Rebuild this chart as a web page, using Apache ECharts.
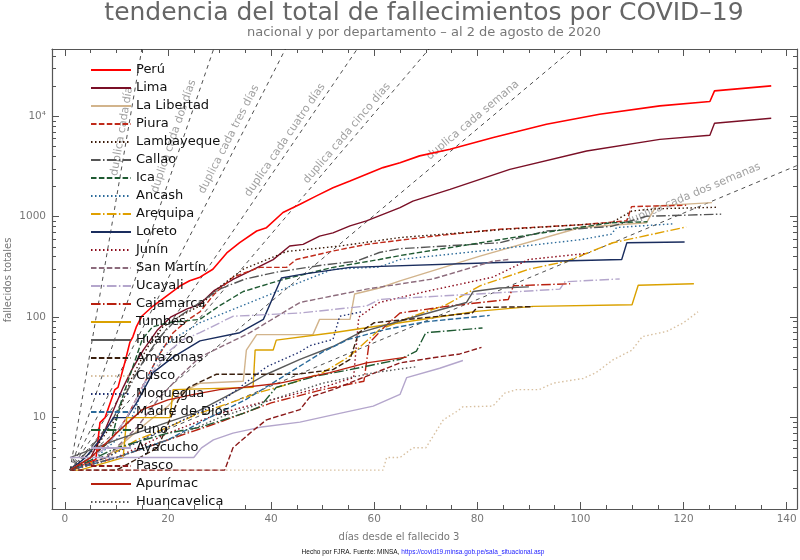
<!DOCTYPE html>
<html>
<head>
<meta charset="utf-8">
<script src="https://cdn.jsdelivr.net/npm/echarts@6/dist/echarts.min.js"></script>
<style>
  html, body { margin: 0; padding: 0; background: #fff; }
  #main { width: 800px; height: 560px; }
</style>
</head>
<body>
<div id="main"></div>
<script>
// deaths per department, [days since death 3, total deaths]
var peru = [[1,3],[6,3.8],[6.8,8.9],[7.8,10],[9.7,19],[10.3,20],[11.6,35],[12.6,56],[13.2,64],[13.9,81],[14.9,102],[17.1,129],[19.7,162],[22.3,204],[24.2,230],[26.2,250],[28.7,300],[31.4,436],[33.9,552],[37.2,720],[39.1,778],[42.3,1100],[45.6,1330],[48.8,1610],[52,1940],[55.3,2260],[58.5,2640],[61.7,3080],[65,3450],[68.8,4030],[74.7,4690],[83.1,6130],[93.4,8320],[103.7,10470],[115.4,12670],[125.1,14010],[126,17900],[137,20050]];
var lima = [[1,3],[5,4],[8,8],[11.3,20],[13,30],[15.2,47],[18,75],[20.5,100],[23.6,120],[26.2,135],[29,185],[32.6,237],[36.5,297],[40.4,374],[43.6,510],[46.2,530],[49.4,640],[52,690],[55.3,810],[58.5,910],[65,1230],[67.5,1430],[74.7,1870],[86.3,2960],[101.2,4510],[115.4,5890],[125.1,6470],[126,8510],[137,9550]];
var laLibertad = [[1,3],[8,4],[12,6],[16,9],[20,13],[22,17],[26.2,22],[34.6,23],[35.2,47],[37.2,67],[48.1,67],[49.4,95],[55.3,95],[56.2,170],[61,195],[65,230],[80.5,405],[100,780],[112.8,870],[114.7,1280],[125.5,1380]];
var piura = [[1,3],[5,4],[9,6],[12,10],[15,20],[18,40],[21,70],[24,95],[26.2,113],[29,170],[32.6,250],[37.8,313],[43,313],[44.9,375],[52,455],[58.5,530],[71.4,640],[84.3,750],[100,830],[109,910],[109.9,1260],[120.5,1300]];
var lambayeque = [[1,3],[6,5],[10,10],[13,25],[16,50],[19,80],[22,100],[26.2,130],[30,200],[34.6,300],[43,450],[53.3,510],[65,620],[84.3,740],[106,870],[110,1140],[115,1200],[126.4,1240]];
var callao = [[1,3],[5,5],[9,9],[12,18],[15,35],[18,60],[22,100],[26.2,140],[30,190],[35,240],[41,280],[50,330],[56.5,360],[61,440],[65,480],[84.3,550],[93.4,720],[106,800],[112.8,1010],[127.3,1060]];
var ica = [[1,3],[5,4],[9,6],[11,15],[13,30],[15,60],[17,80],[20,88],[26.2,95],[30,130],[34.6,180],[42.3,237],[52,313],[61,375],[65,410],[84.3,590],[93.4,700],[106,870],[113,890]];
var ancash = [[1,3],[6,4],[10,6],[13,10],[16,25],[19,50],[22,65],[26.2,88],[35.9,140],[42.3,190],[52,300],[61,315],[65,375],[80.5,455],[100,590],[106,670],[107,780],[118,850]];
var arequipa = [[1,3],[8,4],[14,6],[20,8],[26,11],[32,14],[38,18],[44,22],[50,28],[55,40],[61,75],[67,100],[74,133],[80.5,205],[90,300],[97.3,360],[106.3,550],[120.5,790]];
var loreto = [[1,3],[4,4],[6.8,6],[9.4,10],[12,10],[13.9,14],[17.1,28],[21,40],[26.2,58],[33.9,70],[38.5,95],[42,245],[45.6,265],[55.3,313],[84.3,350],[108,375],[109,550],[120.2,560]];
var junin = [[1,3],[10,4],[20,7],[30,11],[40,15],[50,20],[56,25],[57,100],[61,140],[70,180],[83,250],[90,375],[101,430]];
var sanMartin = [[1,3],[8,4],[14,8],[18,15],[22,25],[26.2,40],[35.9,70],[45.6,140],[58.5,190],[71.4,240],[83,360],[86,375]];
var ucayali = [[1,3],[8,5],[12,10],[16,25],[20,45],[23,60],[26.2,70],[32.6,102],[45.6,110],[58.5,129],[61,150],[80,170],[96,190],[97,225],[107.6,240]];
var cajamarca = [[1,3],[10,4],[20,6],[30,9],[40,14],[50,19],[58,23],[59,55],[62,80],[65,110],[75,130],[86,150],[87,205],[98,215]];
var tumbes = [[1,3],[2.9,3],[11.3,4],[12,10],[20.4,10],[21,19],[36.5,20],[36.9,47],[40.4,47],[41,59],[52,70],[65,88],[79.8,114],[90.8,128],[110,133],[111.2,208],[122,215]];
var huanuco = [[1,4],[10,6],[20,9],[25,11],[30,15],[34.6,20],[39.1,27],[45.6,38],[52,51],[57.2,70],[68.2,102],[77.9,140],[79.2,180],[84.3,195],[90,200]];
var amazonas = [[1,3],[10,3],[18,5],[22,15],[24,20],[29.4,27],[45,27],[52,30],[55.3,38],[57,70],[60,88],[79,110],[80,125],[90.8,127]];
var cusco = [[1,3],[61.7,3],[62.4,4],[65,4],[67.5,5],[70,5],[73.4,9.5],[76,11.5],[77.2,12.8],[83,13],[85.3,17.5],[87.6,19],[92,19],[94.7,22],[100.5,24.5],[103,28],[106.3,37.5],[110,47],[112,64],[116.7,72],[120,88],[122.8,113]];
var moquegua = [[1,3],[8,4],[15,6],[22,9],[30,14],[39.1,32],[45.6,45],[47.5,52],[52,60],[53.3,102],[57.9,114]];
var madreDeDios = [[1,3],[10,4],[20,6],[28,10],[35,15],[42,25],[50,45],[55,60],[62,75],[70,90],[82.4,104]];
var puno = [[1,3],[10,5],[20,7],[26.2,8],[34.6,11],[37.8,12.8],[41,20],[48.8,26],[55.3,30],[65,38],[68.2,46],[70,70],[81,78]];
var ayacucho = [[1,4],[25,4],[26.5,5],[28.8,6],[32.6,7],[37.8,8],[45.6,9],[53.3,11],[59.8,13],[65,17],[66.3,25],[72.7,31],[77.2,37]];
var pasco = [[1,3],[31,3],[32.6,5],[35.9,7],[39.1,9.5],[45.6,12],[47.5,16],[52,19],[57.8,25],[65,35],[70.8,39],[76.6,43],[80.8,50]];
var apurimac = [[1,3],[5,4],[10,7],[15,12],[20,15],[25,17],[30,19],[34.6,20],[41.7,22],[51.4,28],[58.5,35],[66.3,40]];
var huancavelica = [[1,3],[10,4],[20,6],[30,10],[40,15],[50,22],[60,28],[68,32]];

var names = ['Perú','Lima','La Libertad','Piura','Lambayeque','Callao','Ica','Ancash','Arequipa','Loreto','Junín','San Martín','Ucayali','Cajamarca','Tumbes','Huánuco','Amazonas','Cusco','Moquegua','Madre de Dios','Puno','Ayacucho','Pasco','Apurímac','Huancavelica'];
var values = [peru, lima, laLibertad, piura, lambayeque, callao, ica, ancash, arequipa, loreto, junin, sanMartin, ucayali, cajamarca, tumbes, huanuco, amazonas, cusco, moquegua, madreDeDios, puno, ayacucho, pasco, apurimac, huancavelica];

// doubling guide lines, start at 3 deaths on day 1
var doublingDays = [1, 2, 3, 4, 5, 7, 14];
var doublingLabels = ['duplica cada día','duplica cada dos días','duplica cada tres días','duplica cada cuatro días','duplica cada cinco días','duplica cada semana','duplica cada dos semanas'];
var doublingLabelAt = [[11.05,7086],[21.1,6320],[31.8,5900],[42.7,5770],[54.7,6770],[79.1,9120],[121.8,1670]];

var xTicks = [0, 20, 40, 60, 80, 100, 120, 140];
var yTicks = [10, 100, 1000, 10000];

var X_MIN = -2.5, X_MAX = 142, Y_MIN = 1.23, Y_MAX = 46700;

var DASH = [5.5, 2.4], DOT = [1.5, 2.5], DASHDOT = [9.6, 2.4, 1.5, 2.4];
var looks = [
  ['#ff0000','solid'],['#7a0f26','solid'],['#d2b48c','solid'],['#c02a1a',DASH],['#3b1a08',DOT],
  ['#555555',DASHDOT],['#1f5a32',DASH],['#2b6a9a',DOT],['#e0a000',DASHDOT],['#1a2d5e','solid'],
  ['#8b0a1a',DOT],['#8c6b7c',DASH],['#b4a6cc',DASHDOT],['#b8200f',DASHDOT],['#daa100','solid'],
  ['#5a5a5a','solid'],['#3a1f0d',DASH],['#d8c0a0',DOT],['#1f2f70',DOT],['#2b6a9a',DASH],
  ['#1f5a32',DASHDOT],['#b4a6cc','solid'],['#8b1a1a',DASH],['#b8200f','solid'],['#555555',DOT]
];

var gridW = 745, gridH = 460;
var pxPerDay = gridW / (X_MAX - X_MIN);
var pxPerDecade = gridH / (Math.log10(Y_MAX) - Math.log10(Y_MIN));

var minorX = [];
for (var i = 0; i <= 140; i += 5) { if (i % 20 !== 0) minorX.push(i); }
var minorY = [];
for (var k = 0; k <= 4; k++) {
  for (var m = 2; m <= 9; m++) {
    var v = m * Math.pow(10, k);
    if (v > Y_MIN && v < Y_MAX) minorY.push(v);
  }
}

var series = [];
doublingDays.forEach(function (d, i) {
  var xTop = 1 + d * Math.log2(Y_MAX / 3);
  var end = xTop <= X_MAX ? [xTop, Y_MAX] : [X_MAX, 3 * Math.pow(2, (X_MAX - 1) / d)];
  series.push({
    type: 'line', data: [[1, 3], end], symbol: 'none', silent: true,
    lineStyle: { color: '#222', width: 0.8, type: [4, 4] }, z: 1
  });
  var ang = Math.atan((pxPerDecade * Math.log10(2) / d) / pxPerDay) * 180 / Math.PI;
  series.push({
    type: 'scatter', data: [doublingLabelAt[i]], symbolSize: 1, silent: true,
    itemStyle: { color: 'transparent' },
    label: { show: true, position: 'inside', formatter: doublingLabels[i], rotate: ang,
      color: '#888', fontSize: 11, fontFamily: 'DejaVu Sans' }, z: 1
  });
});
names.forEach(function (n, i) {
  series.push({
    name: n, type: 'line', data: values[i], symbol: 'none',
    lineStyle: { color: looks[i][0], type: looks[i][1], width: i === 0 ? 1.6 : 1.4 },
    itemStyle: { color: looks[i][0] }, z: 2
  });
});

function xAx(pos, custom, len, labels, line) {
  return {
    type: 'value', position: pos, min: X_MIN, max: X_MAX,
    axisLine: { show: line, onZero: false, lineStyle: { color: '#555', width: 1.2 } },
    axisTick: { show: true, inside: true, length: len, customValues: custom, lineStyle: { color: '#555' } },
    axisLabel: { show: labels, customValues: custom, color: '#777', fontSize: 10.5, margin: 5, fontFamily: 'DejaVu Sans' },
    splitLine: { show: false }
  };
}
function yAx(pos, custom, len, labels, line) {
  return {
    type: 'log', logBase: 10, position: pos, min: Y_MIN, max: Y_MAX,
    axisLine: { show: line, onZero: false, lineStyle: { color: '#555', width: 1.2 } },
    axisTick: { show: true, inside: true, length: len, customValues: custom, lineStyle: { color: '#555' } },
    axisLabel: { show: labels, customValues: custom, color: '#777', fontSize: 10.5, margin: 6, fontFamily: 'DejaVu Sans',
      formatter: function (v) { return v >= 10000 ? '10⁴' : String(Math.round(v)); } },
    splitLine: { show: false }, minorTick: { show: false }
  };
}

var chart = echarts.init(document.getElementById('main'));
chart.setOption({
  animation: false,
  backgroundColor: '#fff',
  textStyle: { fontFamily: 'DejaVu Sans' },
  grid: { left: 52, right: 3, top: 49, bottom: 51 },
  xAxis: [xAx('bottom', xTicks, 7, true, true), xAx('bottom', minorX, 4, false, false),
          xAx('top', xTicks, 7, false, true), xAx('top', minorX, 4, false, false)],
  yAxis: [yAx('left', yTicks, 7, true, true), yAx('left', minorY, 4, false, false),
          yAx('right', yTicks, 7, false, true), yAx('right', minorY, 4, false, false)],
  legend: {
    orient: 'vertical', left: 90, top: 63, padding: 0, itemWidth: 40, itemHeight: 14, itemGap: 4,
    data: names, selectedMode: false,
    itemStyle: { opacity: 0 },
    textStyle: { color: '#111', fontSize: 13, lineHeight: 14, fontFamily: 'DejaVu Sans' }
  },
  graphic: [
    { type: 'text', x: 424, y: 13, style: { text: 'tendencia del total de fallecimientos por COVID–19', fontSize: 25, fill: '#666', textAlign: 'center', textVerticalAlign: 'middle', fontFamily: 'DejaVu Sans' } },
    { type: 'text', x: 424, y: 33, style: { text: 'nacional y por departamento – al 2 de agosto de 2020', fontSize: 13, fill: '#777', textAlign: 'center', textVerticalAlign: 'middle', fontFamily: 'DejaVu Sans' } },
    { type: 'text', x: 399, y: 537, style: { text: 'días desde el fallecido 3', fontSize: 10, fill: '#777', textAlign: 'center', textVerticalAlign: 'middle', fontFamily: 'DejaVu Sans' } },
    { type: 'text', x: 8, y: 280, rotation: Math.PI / 2, style: { text: 'fallecidos totales', fontSize: 10, fill: '#777', textAlign: 'center', textVerticalAlign: 'middle', fontFamily: 'DejaVu Sans' } },
    { type: 'text', x: 423, y: 552, style: { text: '{a|Hecho por FJRA. Fuente: MINSA, }{b|https://covid19.minsa.gob.pe/sala_situacional.asp}', textAlign: 'center', textVerticalAlign: 'middle', fontFamily: 'DejaVu Sans', fontSize: 6.5,
      rich: { a: { fill: '#111', fontSize: 6.5 }, b: { fill: '#2222ff', fontSize: 6.5 } } } }
  ],
  series: series
});
</script>
</body>
</html>
